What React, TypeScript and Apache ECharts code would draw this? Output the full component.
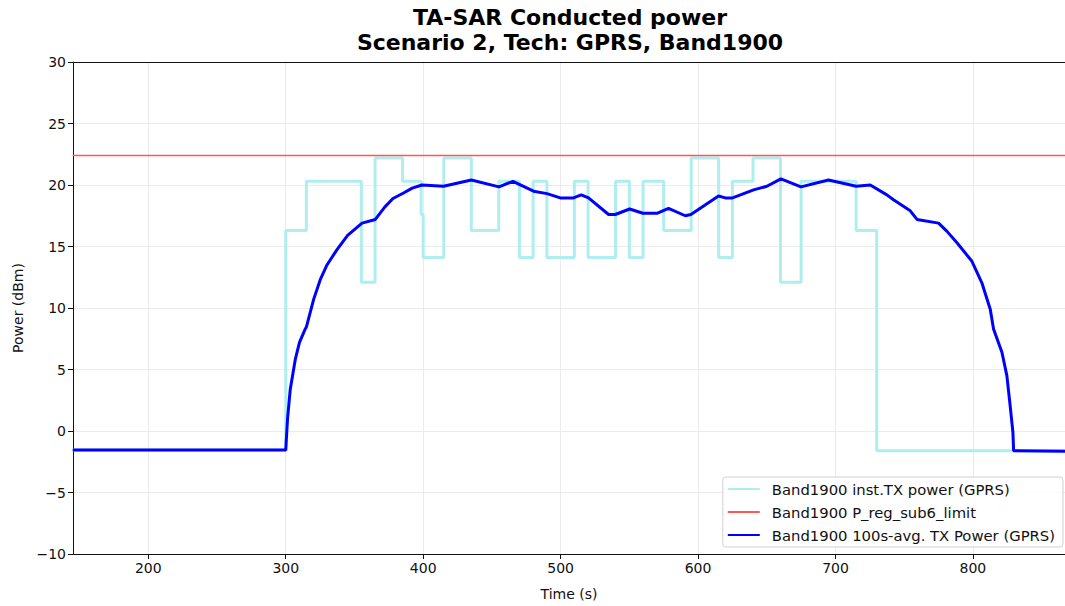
import React, { useEffect, useRef } from "react";
import * as echarts from "echarts";

// Instantaneous TX power (step: value holds from time t until the next time)
const instTime = [145, 300, 315, 355, 365, 385, 398.5, 400, 415, 435, 455, 470, 480, 490, 510, 520, 540, 550, 560, 575, 595, 615, 625, 640, 660, 675, 715, 730, 867];
const instPower = [-1.55, 16.3, 20.3, 12.1, 22.2, 20.3, 17.6, 14.1, 22.2, 16.3, 20.3, 14.1, 20.3, 14.1, 20.3, 14.1, 20.3, 14.1, 20.3, 16.3, 22.2, 14.1, 20.3, 22.2, 12.1, 20.3, 16.3, -1.6, -1.6];

// Regulatory limit
const limitTime = [145, 867];
const limitPower = [22.4, 22.4];

// 100 s average TX power
const avgTime = [145, 300, 301.3, 303.3, 306.9, 310, 314.2, 315, 320.3, 325.1, 330, 337.3, 345, 355.5, 365.2, 372, 378, 385.7, 392, 399.1, 414.8, 435, 455.2, 465.3, 480.3, 490.1, 499.7, 509.4, 515, 520.3, 534.9, 539.8, 550.2, 559.9, 570.1, 578.5, 590.7, 594.8, 614.9, 619.8, 625.1, 640.4, 650.1, 660.3, 674.9, 694.9, 715.1, 725.3, 737.4, 742.2, 754.4, 759.3, 775, 781, 788.4, 799.3, 806.5, 812.6, 815, 821.1, 824.7, 827.1, 829.1, 829.6, 867];
const avgPower = [-1.55, -1.55, 1.0, 3.4, 5.8, 7.2, 8.3, 8.45, 10.7, 12.3, 13.5, 14.75, 15.9, 16.9, 17.2, 18.2, 18.9, 19.35, 19.75, 20.0, 19.9, 20.4, 19.85, 20.3, 19.5, 19.3, 18.95, 18.95, 19.2, 18.95, 17.6, 17.6, 18.05, 17.7, 17.7, 18.1, 17.5, 17.6, 19.1, 18.95, 18.95, 19.6, 19.9, 20.5, 19.85, 20.4, 19.9, 20.0, 19.2, 18.8, 17.9, 17.2, 16.9, 16.25, 15.3, 13.8, 12.05, 9.9, 8.3, 6.4, 4.5, 2.05, -0.1, -1.6, -1.65];

const xTicks = [200, 300, 400, 500, 600, 700, 800];
const titleLines = ["TA-SAR Conducted power", "Scenario 2, Tech: GPRS, Band1900"];
const seriesNames = [
  "Band1900 inst.TX power (GPRS)",
  "Band1900 P_reg_sub6_limit",
  "Band1900 100s-avg. TX Power (GPRS)",
];

const zip = (a: number[], b: number[]) => a.map((v, i) => [v, b[i]]);

export default function App() {
  const ref = useRef<HTMLDivElement>(null);
  useEffect(() => {
    if (!ref.current) return;
    const chart = echarts.init(ref.current, undefined, { renderer: "svg" });
    const font = "DejaVu Sans";
    chart.setOption({
      animation: false,
      backgroundColor: "#ffffff",
      textStyle: { fontFamily: font },
      graphic: [
        {
          type: "text",
          x: 570,
          y: 5,
          style: {
            text: titleLines.join("\n"),
            fontFamily: font,
            fontSize: 22,
            fontWeight: "bold",
            lineHeight: 25,
            fill: "#000",
            align: "center",
          },
        },
      ],
      grid: { left: 73, right: 0, top: 62, bottom: 50, containLabel: false },
      legend: {
        data: seriesNames,
        orient: "vertical",
        right: 2,
        top: 477,
        itemWidth: 32,
        itemHeight: 16,
        itemGap: 7,
        padding: [4, 8, 4, 4],
        backgroundColor: "rgba(255,255,255,0.85)",
        borderColor: "#d0d0d0",
        borderWidth: 1,
        borderRadius: 3,
        itemStyle: { opacity: 0, color: "transparent", borderWidth: 0 },
        textStyle: { fontFamily: font, fontSize: 14.8, color: "#111", padding: [0, 0, 0, 7], lineHeight: 16 },
      },
      xAxis: [
        {
          type: "value",
          min: 145.2,
          max: 867,
          name: "Time (s)",
          nameLocation: "middle",
          nameGap: 33,
          nameTextStyle: { fontFamily: font, fontSize: 14, color: "#111" },
          axisLine: { show: true, onZero: false, lineStyle: { color: "#111", width: 1 } },
          axisTick: { show: true, inside: false, length: 5, customValues: xTicks, lineStyle: { color: "#111" } },
          axisLabel: { customValues: xTicks, fontFamily: font, fontSize: 14, color: "#111", margin: 7 },
          splitLine: { show: true, lineStyle: { color: "#ebebeb", width: 1 } },
        },
        {
          type: "value",
          position: "top",
          min: 145.2,
          max: 867,
          axisLine: { show: true, onZero: false, lineStyle: { color: "#111", width: 1 } },
          axisTick: { show: false },
          axisLabel: { show: false },
          splitLine: { show: false },
        },
      ],
      yAxis: {
        type: "value",
        min: -10,
        max: 30,
        interval: 5,
        name: "Power (dBm)",
        nameLocation: "middle",
        nameGap: 48,
        nameTextStyle: { fontFamily: font, fontSize: 14, color: "#111" },
        axisLine: { show: true, onZero: false, lineStyle: { color: "#111", width: 1 } },
        axisTick: { show: true, inside: false, length: 5, lineStyle: { color: "#111" } },
        axisLabel: {
          fontFamily: font,
          fontSize: 14,
          color: "#111",
          margin: 7,
          formatter: (v: number) => (v < 0 ? "\u2212" + Math.abs(v) : String(v)),
        },
        splitLine: { show: true, lineStyle: { color: "#ebebeb", width: 1 } },
      },
      series: [
        {
          name: seriesNames[0],
          type: "line",
          step: "end",
          data: zip(instTime, instPower),
          symbol: "none",
          lineStyle: { color: "#afeeee", width: 3 },
          itemStyle: { color: "#afeeee" },
          z: 2,
        },
        {
          name: seriesNames[1],
          type: "line",
          data: zip(limitTime, limitPower),
          symbol: "none",
          lineStyle: { color: "#ff5555", width: 1.5 },
          itemStyle: { color: "#ff5555" },
          z: 3,
        },
        {
          name: seriesNames[2],
          type: "line",
          data: zip(avgTime, avgPower),
          symbol: "none",
          smooth: false,
          lineStyle: { color: "#0000ff", width: 3 },
          itemStyle: { color: "#0000ff" },
          z: 4,
        },
      ],
    });
    return () => chart.dispose();
  }, []);
  return (
    <div
      ref={ref}
      style={{ position: "absolute", left: 0, top: 0, width: 1065, height: 606 }}
    />
  );
}
